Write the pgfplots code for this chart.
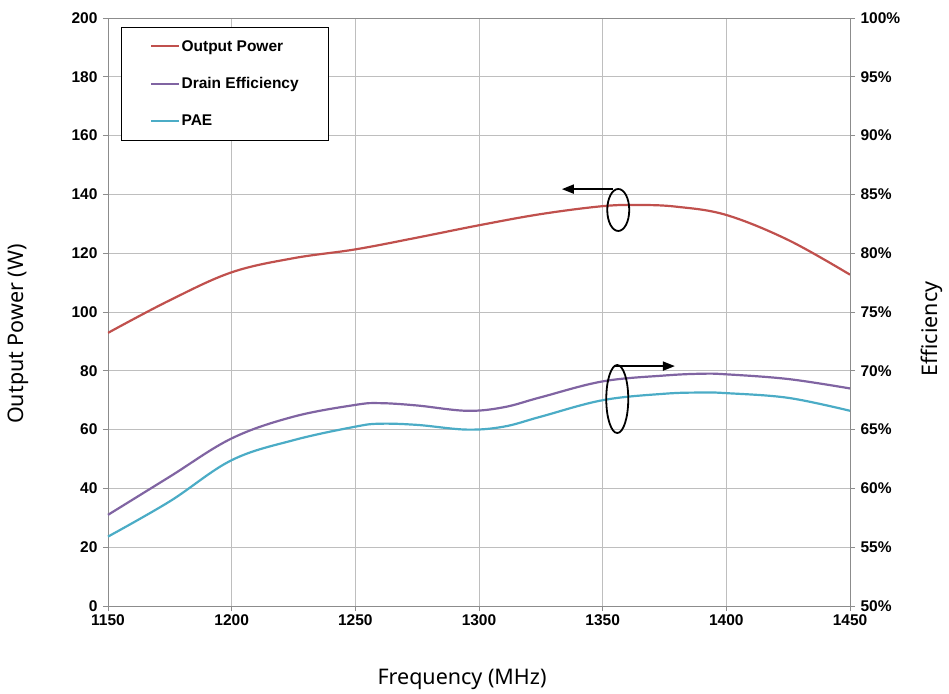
\documentclass[border=0pt]{standalone}
\usepackage{pgfplots}
\pgfplotsset{compat=1.18}
\usetikzlibrary{arrows.meta}
\usepackage{fontspec}
\setmainfont{Liberation Sans}
\newfontfamily\labelfont{Noto Sans}
\definecolor{cRed}{RGB}{192,80,77}
\definecolor{cPur}{RGB}{128,100,162}
\definecolor{cBlu}{RGB}{75,172,198}
\definecolor{cGrid}{RGB}{190,190,190}
\definecolor{cAx}{RGB}{140,140,140}
\pgfplotsset{
  common/.style={
    scale only axis, width=742pt, height=588pt,
    xmin=1150, xmax=1450,
    /pgf/number format/assume math mode=true,
    /pgf/number format/1000 sep={},
    tick label style={font=\bfseries\fontsize{15.5}{17}\selectfont, text=black},
    tick align=outside, major tick length=5pt,
    tick style={cAx, line width=0.8pt},
    axis line style={cAx, line width=0.8pt},
    label style={font=\labelfont\fontsize{21.5}{25}\selectfont},
  }
}
\begin{document}
\begin{tikzpicture}
\useasboundingbox (-108pt,-87pt) rectangle (841pt,606pt);
\begin{axis}[common,
  ymin=0, ymax=200,
  xtick={1150,1200,...,1450},
  ytick={0,20,...,200},
  xtick pos=bottom, ytick pos=left,
  grid=major, grid style={cGrid, line width=0.8pt},
  xlabel={Frequency (MHz)},
  ylabel={Output Power (W)},
  xlabel style={at={(axis description cs:0.5,0)}, anchor=north, yshift=-60pt, xshift=-17pt},
  ylabel style={at={(axis description cs:0,0.5)}, anchor=south, yshift=76pt, xshift=-22pt},
  yticklabel style={xshift=-2pt},
]
\addplot[cRed, line width=2.2pt, smooth, tension=0.6] coordinates {
  (1150,92.9) (1175,104) (1200,113.5) (1225,118.3) (1250,121.3) (1275,125.3)
  (1300,129.5) (1325,133.3) (1350,136) (1365,136.4) (1380,135.8) (1400,133)
  (1425,124.5) (1450,112.7)
};
\end{axis}
\begin{axis}[common,
  ymin=50, ymax=100,
  axis x line=none,
  axis y line*=right,
  ytick={50,55,...,100},
  yticklabels={50\%,55\%,60\%,65\%,70\%,75\%,80\%,85\%,90\%,95\%,100\%},
  yticklabel style={xshift=2pt},
  ylabel={Efficiency},
  ylabel style={at={(axis description cs:1,0.5)}, anchor=south, yshift=-96pt, xshift=-17pt},
  clip=false,
  legend cell align=left,
  legend image code/.code={\draw[#1] (0pt,0pt) -- (28pt,0pt);},
  legend style={at={(axis description cs:0.0175,0.985)}, anchor=north west,
    draw=black, line width=0.8pt, fill=white,
    font=\bfseries\fontsize{15.5}{17}\selectfont,
    inner xsep=29pt, inner ysep=12pt, row sep=23pt,
    nodes={inner sep=1pt}},
]
\addlegendimage{cRed, line width=2.2pt}
\addlegendentry{Output Power}
\addplot[cPur, line width=2.2pt, smooth, tension=0.6] coordinates {
  (1150,57.75) (1175,61) (1200,64.25) (1225,66.1) (1250,67.1) (1260,67.25)
  (1275,67.05) (1295,66.6) (1310,66.9) (1325,67.75) (1350,69.1) (1375,69.6)
  (1390,69.75) (1400,69.7) (1425,69.3) (1450,68.5)
};
\addlegendentry{Drain Efficiency}
\addplot[cBlu, line width=2.2pt, smooth, tension=0.6] coordinates {
  (1150,55.9) (1175,58.9) (1200,62.4) (1225,64.1) (1250,65.25) (1260,65.5)
  (1275,65.4) (1295,65) (1310,65.25) (1325,66.1) (1350,67.5) (1375,68.05)
  (1390,68.15) (1400,68.1) (1425,67.7) (1450,66.6)
};
\addlegendentry{PAE}
\draw[black, line width=1.8pt] (axis cs:1356.3,83.675) ellipse [x radius=11pt, y radius=21pt];
\draw[black, line width=1.8pt, -{Triangle[length=12pt,width=9pt]}] (axis cs:1354.1,85.45) -- (axis cs:1333.5,85.45);
\draw[black, line width=1.8pt] (axis cs:1355.9,67.6) ellipse [x radius=11pt, y radius=34pt];
\draw[black, line width=1.8pt, -{Triangle[length=12pt,width=9pt]}] (axis cs:1354.9,70.4) -- (axis cs:1379.2,70.4);
\end{axis}
\end{tikzpicture}
\end{document}
